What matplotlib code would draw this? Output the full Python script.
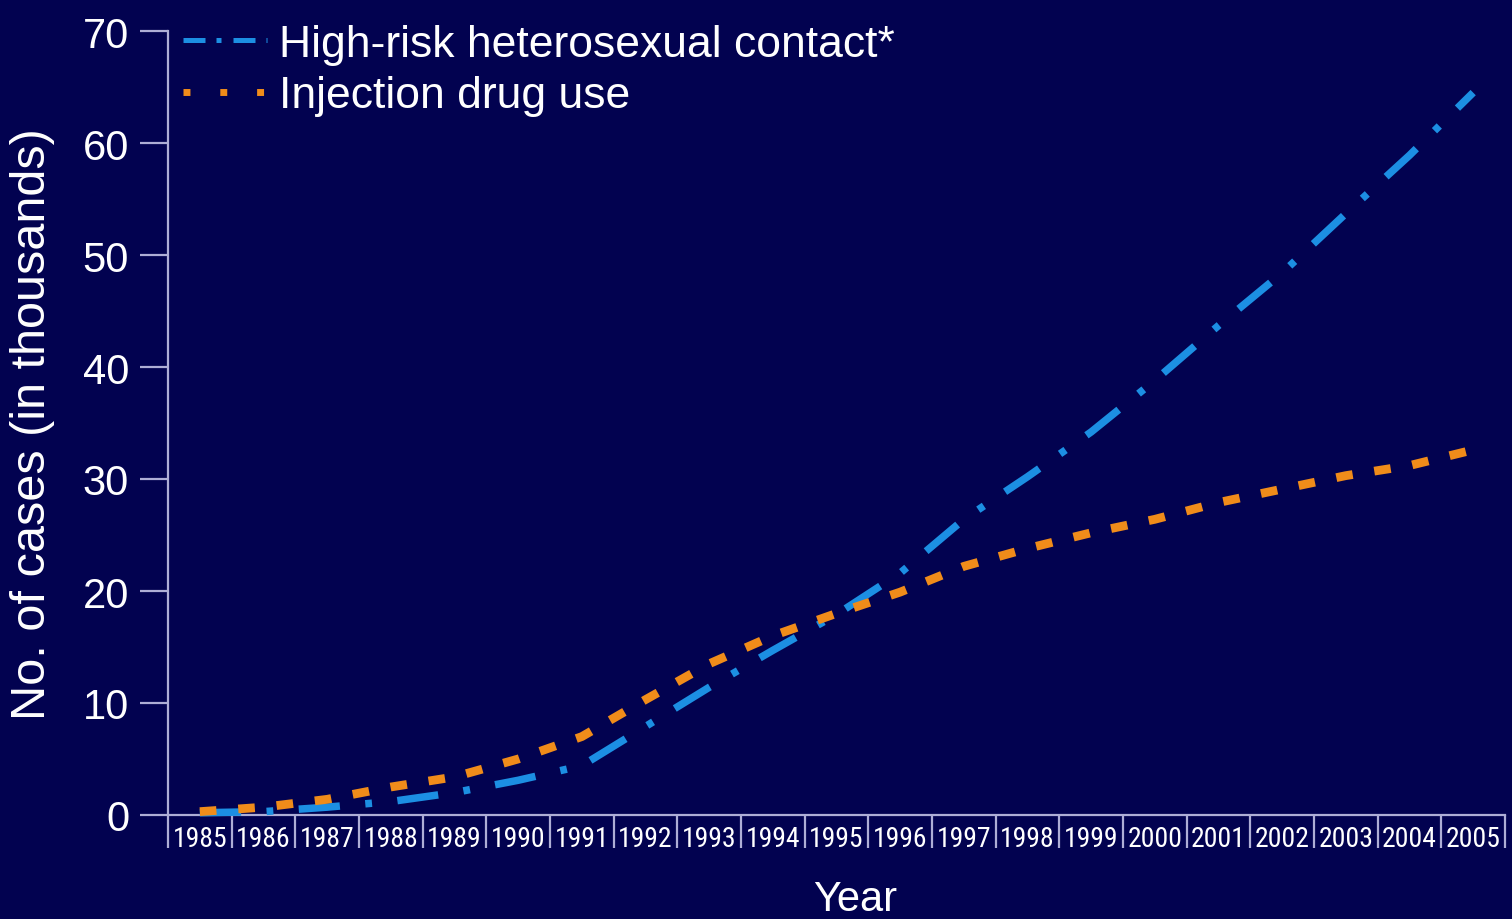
import matplotlib
matplotlib.use("Agg")
import matplotlib.pyplot as plt
from matplotlib.lines import Line2D
from matplotlib import font_manager

# Data: AIDS cases (thousands) by transmission category
years = ["1985", "1986", "1987", "1988", "1989", "1990", "1991", "1992", "1993",
         "1994", "1995", "1996", "1997", "1998", "1999", "2000", "2001", "2002",
         "2003", "2004", "2005"]
heterosexual = [0.2, 0.3, 0.7, 1.2, 2.0, 3.1, 4.4, 7.9, 11.4, 14.7, 17.9, 21.6,
                26.4, 30.2, 34.2, 38.8, 43.7, 48.4, 53.7, 58.9, 64.5]
injection = [0.3, 0.7, 1.4, 2.5, 3.4, 5.0, 7.0, 10.3, 13.5, 16.0, 18.0, 19.9,
             22.2, 23.8, 25.2, 26.4, 27.9, 29.1, 30.3, 31.2, 32.6]
series_labels = ["High-risk heterosexual contact*", "Injection drug use"]
y_ticks = [0, 10, 20, 30, 40, 50, 60, 70]

BG = "#020250"
BLUE = "#1c8fe3"
ORANGE = "#f08c1a"
AXIS = "#aeaed6"

fonts = font_manager.fontManager.ttflist
installed = {f.name for f in fonts}
main_font = "Liberation Sans" if "Liberation Sans" in installed else "DejaVu Sans"

# a narrow face for the crowded year labels, if one is available
narrow_prop = None
for f in fonts:
    if f.name in ("Liberation Sans Narrow", "Arial Narrow", "Roboto Condensed",
                  "DejaVu Sans Condensed") and f.style == "normal" and f.weight in (400, "normal"):
        narrow_prop = font_manager.FontProperties(fname=f.fname)
        break
if narrow_prop is None:
    for f in fonts:
        if (("Condensed" in f.fname or "Narrow" in f.fname)
                and "Bold" not in f.fname and "Oblique" not in f.fname
                and "Italic" not in f.fname and "Sans" in f.fname):
            narrow_prop = font_manager.FontProperties(fname=f.fname)
            break

plt.rcParams["font.family"] = [main_font, "DejaVu Sans"]

fig = plt.figure(figsize=(15.12, 9.2), dpi=100, facecolor=BG)
W, H = 1512, 920
ax = fig.add_axes([168 / W, 1 - 816 / H, (1505 - 168) / W, (816 - 32) / H])
ax.set_facecolor(BG)

x = list(range(len(years)))
ax.plot(x, heterosexual, color=BLUE, lw=5.4, solid_capstyle="butt",
        dash_capstyle="butt", linestyle=(0, (5.5, 3.4, 0.9, 3.4)), zorder=3,
        clip_on=False)
ax.plot(x, injection, color=ORANGE, lw=6.3, dash_capstyle="butt",
        linestyle=(0, (1.9, 2.5)), zorder=3, clip_on=False)

ax.set_xlim(-0.5, len(years) - 0.5)
ax.set_ylim(0, 70)

# spines
for side in ("top", "right"):
    ax.spines[side].set_visible(False)
for side in ("left", "bottom"):
    ax.spines[side].set_color(AXIS)
    ax.spines[side].set_linewidth(1.6)

# y axis
ax.set_yticks(y_ticks)
ax.set_yticklabels([str(v) for v in y_ticks])
ax.tick_params(axis="y", direction="out", length=20, width=1.6, color=AXIS,
               labelcolor="white", labelsize=30, pad=8)

# x axis: labels at category centres, boundary ticks between
ax.set_xticks(x)
if narrow_prop is not None:
    ax.set_xticklabels(years, fontproperties=narrow_prop, fontsize=20)
    ax.tick_params(axis="x", which="major", length=0, labelcolor="white", pad=7)
else:
    ax.set_xticklabels(years)
    ax.tick_params(axis="x", which="major", length=0, labelcolor="white",
                   labelsize=17.5, pad=8)
ax.set_xticks([i - 0.5 for i in range(len(years) + 1)], minor=True)
ax.tick_params(axis="x", which="minor", direction="out", length=24, width=1.6,
               color=AXIS)

ax.set_ylabel("No. of cases (in thousands)", color="white", fontsize=35,
              labelpad=20)
fig.text(855 / W, 1 - 900 / H, "Year", color="white", fontsize=30,
         ha="center", va="center")

handles = [
    Line2D([], [], color=BLUE, lw=3.6, dash_capstyle="butt",
           linestyle=(0, (4.4, 2.2, 1.0, 2.4))),
    Line2D([], [], color=ORANGE, lw=5.0, dash_capstyle="butt",
           linestyle=(0, (1.0, 4.3))),
]
leg = fig.legend(handles, series_labels, loc="upper left",
                 bbox_to_anchor=(183 / W, 1 - 25 / H), frameon=False,
                 fontsize=32, labelcolor="white", handlelength=1.9,
                 handletextpad=0.27, borderpad=0, borderaxespad=0,
                 labelspacing=0.23)

fig.savefig("out.png", dpi=100, facecolor=BG)
